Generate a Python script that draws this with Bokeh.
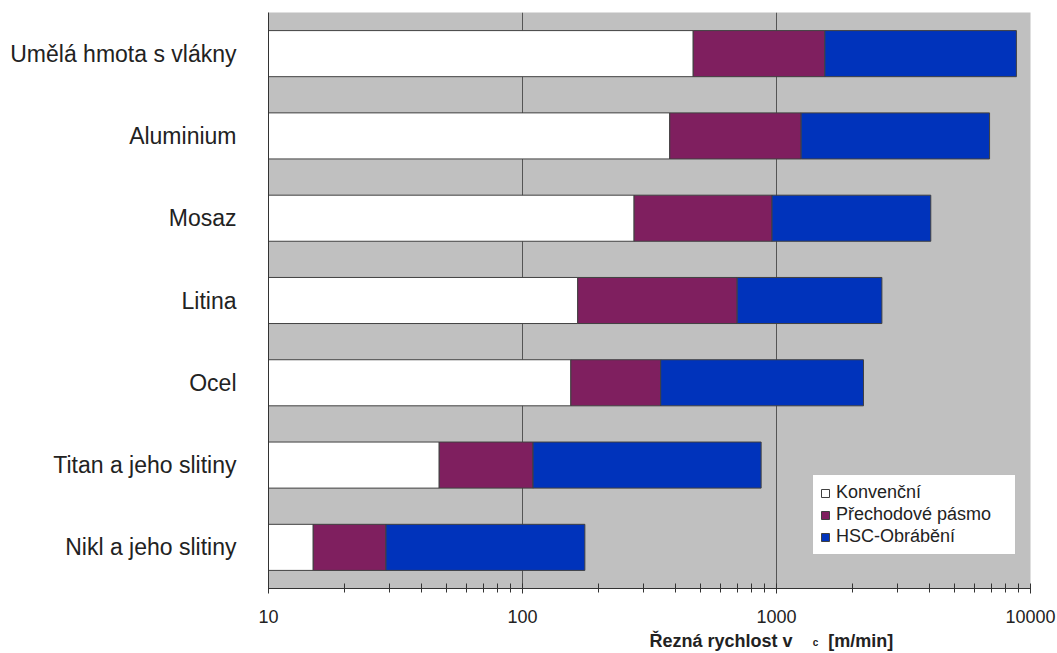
from bokeh.plotting import figure
from bokeh.layouts import column
from bokeh.models import Range1d, FixedTicker, Legend, LegendItem, ColumnDataSource
from bokeh.core.properties import value
from bokeh.embed import file_html
from bokeh.resources import INLINE

# ---- data ----
categories = ["Umělá hmota s vlákny", "Aluminium", "Mosaz", "Litina", "Ocel",
              "Titan a jeho slitiny", "Nikl a jeho slitiny"]
konvencni = [470, 380, 275, 165, 155, 47, 15]        # end of white bar
prechodove = [1550, 1250, 960, 700, 350, 110, 29]    # end of purple bar
hsc = [8800, 6900, 4050, 2600, 2200, 870, 176]       # end of blue bar
series_names = ["Konvenční", "Přechodové pásmo", "HSC-Obrábění"]
x_ticks = [10, 100, 1000, 10000]
axis_title_parts = ["Řezná rychlost v", "c", "[m/min]"]
axis_start = 10

FONT = "Liberation Sans"
colors = ["#ffffff", "#7f1f5f", "#0033bb"]

ys = list(range(len(categories)))
src = ColumnDataSource(dict(
    y=ys,
    start=[axis_start] * len(categories),
    konv=konvencni,
    prech=prechodove,
    hsc=hsc,
))

xr = Range1d(10, 10000)
p = figure(width=1057, height=630, x_axis_type="log",
           x_range=xr, y_range=Range1d(len(categories) - 0.5, -0.5),
           output_backend="svg", toolbar_location=None,
           min_border_left=268, min_border_right=27, min_border_top=12,
           min_border_bottom=42)
p.background_fill_color = "#c0c0c0"
p.border_fill_color = "white"
p.outline_line_color = None

bh = 0.56
r1 = p.hbar(y="y", left="start", right="konv", height=bh, source=src,
            fill_color=colors[0], line_color="#404040", line_width=1)
r2 = p.hbar(y="y", left="konv", right="prech", height=bh, source=src,
            fill_color=colors[1], line_color="#404040", line_width=1)
r3 = p.hbar(y="y", left="prech", right="hsc", height=bh, source=src,
            fill_color=colors[2], line_color="#404040", line_width=1)

# x axis
minor = []
for d in x_ticks[:-1]:
    minor += [d * k for k in range(2, 10)]
p.xaxis.ticker = FixedTicker(ticks=x_ticks, minor_ticks=minor)
p.xaxis.major_label_overrides = {t: str(t) for t in x_ticks}
p.xaxis.major_label_text_font = FONT
p.xaxis.major_label_text_font_size = "18px"
p.xaxis.major_label_text_color = "#222222"
p.xaxis.major_label_standoff = 16
p.xaxis.axis_line_color = "#333333"
p.xaxis.major_tick_line_color = "#333333"
p.xaxis.minor_tick_line_color = "#333333"
p.xaxis.major_tick_in = 5
p.xaxis.major_tick_out = 5
p.xaxis.minor_tick_in = 5
p.xaxis.minor_tick_out = 4

# y axis
p.yaxis.ticker = FixedTicker(ticks=ys)
p.yaxis.major_label_overrides = {i: c for i, c in zip(ys, categories)}
p.yaxis.major_label_text_font = FONT
p.yaxis.major_label_text_font_size = "23px"
p.yaxis.major_label_text_color = "#222222"
p.yaxis.major_label_standoff = 26
p.yaxis.major_tick_line_color = None
p.yaxis.minor_tick_line_color = None
p.yaxis.axis_line_color = "#333333"

p.xgrid.grid_line_color = "#555555"
p.xgrid.grid_line_width = 1
p.ygrid.grid_line_color = None

legend = Legend(items=[LegendItem(label=series_names[0], renderers=[r1]),
                       LegendItem(label=series_names[1], renderers=[r2]),
                       LegendItem(label=series_names[2], renderers=[r3])],
                location=(544, 33))
legend.background_fill_color = "white"
legend.background_fill_alpha = 1
legend.border_line_color = "#808080"
legend.label_text_font = FONT
legend.label_text_font_size = "18px"
legend.label_text_color = "#222222"
legend.glyph_width = 10
legend.glyph_height = 10
legend.label_standoff = 6
legend.label_height = 20
legend.label_width = 172
legend.spacing = 1
legend.padding = 7
legend.margin = 0
p.add_layout(legend, "center")

# ---- axis title strip (with subscript) ----
t = figure(width=1057, height=23, x_axis_type="log", x_range=xr,
           y_range=Range1d(0, 1), output_backend="svg", toolbar_location=None,
           min_border_left=268, min_border_right=27, min_border_top=0,
           min_border_bottom=0, x_axis_location=None, y_axis_location=None)
t.outline_line_color = None
t.grid.grid_line_color = None
t.background_fill_color = "white"
t.border_fill_color = "white"
t.text(x=[316, 1600], y=[0.55, 0.55], text=[axis_title_parts[0], axis_title_parts[2]],
       text_font=value(FONT), text_font_style="bold", text_font_size="18px",
       text_color="#222222", text_baseline="alphabetic")
t.text(x=[1390], y=[0.47], text=[axis_title_parts[1]],
       text_font=value(FONT), text_font_style="bold", text_font_size="10px",
       text_color="#222222", text_baseline="alphabetic")

layout = column(p, t, spacing=0)
open("out.html", "w").write(file_html(layout, INLINE))
